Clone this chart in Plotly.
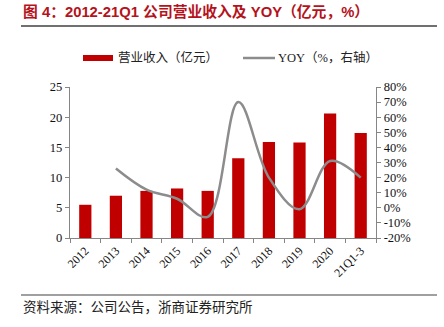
import plotly.graph_objects as go

categories = ["2012", "2013", "2014", "2015", "2016", "2017", "2018", "2019", "2020", "21Q1-3"]
revenue = [5.5, 7.0, 7.8, 8.2, 7.8, 13.2, 15.9, 15.8, 20.6, 17.4]
yoy_cats = categories[1:]
yoy = [26, 12, 6, -6, 70, 20, -1, 31, 20]
left_ticks = [0, 5, 10, 15, 20, 25]
right_ticks = [-20, -10, 0, 10, 20, 30, 40, 50, 60, 70, 80]
bar_name = "营业收入（亿元）"
line_name = "YOY（%，右轴）"

W, H = 444, 327
L, R, T, B = 70, 376, 87, 238
BAR_COLOR = "#C00000"
LINE_COLOR = "#8C8C8C"

def px(x):
    return (x - L) / (R - L)

def py(y):
    return (B - y) / (B - T)

fig = go.Figure()
fig.add_trace(go.Bar(
    x=categories, y=revenue, name=bar_name,
    marker=dict(color=BAR_COLOR, line=dict(width=0)), width=0.4, yaxis="y",
))
fig.add_trace(go.Scatter(
    x=yoy_cats, y=yoy, name=line_name, mode="lines",
    line=dict(color=LINE_COLOR, width=2.5, shape="spline", smoothing=1.0), yaxis="y2",
))

serif = "Liberation Serif, Noto Sans CJK SC"
axis_common = dict(showgrid=False, zeroline=False, showline=True, linecolor="#868686", linewidth=1.3,
                   ticks="outside", ticklen=4, tickcolor="#868686",
                   tickfont=dict(family=serif, size=12.5, color="#111"))

fig.update_layout(
    width=W, height=H, margin=dict(l=L, r=W - R, t=T, b=H - B),
    paper_bgcolor="white", plot_bgcolor="white",
    bargap=0.6, showlegend=False,
    xaxis=dict(type="category", tickangle=-45, tickson="boundaries", showgrid=False, showline=True,
               linecolor="#868686", linewidth=1.3, ticks="outside", ticklen=4, tickcolor="#868686",
               tickfont=dict(family=serif, size=12, color="#111"), range=[-0.5, 9.5]),
    yaxis=dict(range=[0, 25], tickvals=left_ticks, ticktext=[str(v) for v in left_ticks], **axis_common),
    yaxis2=dict(range=[-20, 80], overlaying="y", side="right", tickvals=right_ticks,
                ticktext=[f"{v}%" for v in right_ticks], **axis_common),
    shapes=[
        dict(type="line", xref="paper", yref="paper", x0=px(21), x1=px(437), y0=py(26), y1=py(26),
             line=dict(color="#404040", width=1.3)),
        dict(type="line", xref="paper", yref="paper", x0=px(21), x1=px(437), y0=py(295), y1=py(295),
             line=dict(color="#808080", width=1.5)),
        # legend keys
        dict(type="rect", xref="paper", yref="paper", x0=px(83), x1=px(113), y0=py(61), y1=py(55),
             line=dict(width=0), fillcolor=BAR_COLOR),
        dict(type="line", xref="paper", yref="paper", x0=px(243), x1=px(275), y0=py(58), y1=py(58),
             line=dict(color=LINE_COLOR, width=2.5)),
    ],
    annotations=[
        dict(text="<b>图 4：2012-21Q1 公司营业收入及 YOY（亿元，%）</b>", xref="paper", yref="paper",
             x=px(21), y=py(12), xanchor="left", yanchor="middle", showarrow=False,
             font=dict(family="Liberation Sans, Noto Sans CJK SC", size=14.8, color="#B5121B")),
        dict(text="资料来源：公司公告，浙商证券研究所", xref="paper", yref="paper",
             x=px(21), y=py(306), xanchor="left", yanchor="middle", showarrow=False,
             font=dict(family="Noto Sans CJK SC", size=13.5, color="#222")),
        dict(text=bar_name, xref="paper", yref="paper", x=px(116), y=py(58),
             xanchor="left", yanchor="middle", showarrow=False,
             font=dict(family=serif, size=12.5, color="#222")),
        dict(text=line_name, xref="paper", yref="paper", x=px(276), y=py(58),
             xanchor="left", yanchor="middle", showarrow=False,
             font=dict(family=serif, size=12.5, color="#222")),
    ],
)

fig.write_html("out.html")
